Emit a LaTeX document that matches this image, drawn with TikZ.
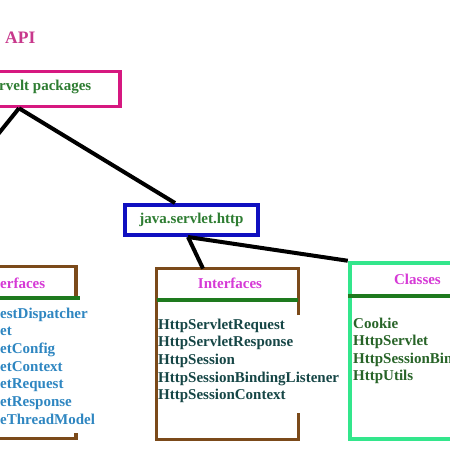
\documentclass[tikz,border=0pt]{standalone}
\usepackage{fontspec}
\setmainfont{Liberation Serif}
\usetikzlibrary{positioning}

\definecolor{titlepink}{RGB}{200,56,140}
\definecolor{pkgpink}{RGB}{214,24,128}
\definecolor{pkggreen}{RGB}{46,125,50}
\definecolor{httpblue}{RGB}{16,16,192}
\definecolor{hdrmag}{RGB}{214,58,214}
\definecolor{boxbrown}{RGB}{123,74,26}
\definecolor{sepgreen}{RGB}{30,122,30}
\definecolor{listblue}{RGB}{46,134,193}
\definecolor{listteal}{RGB}{22,70,70}
\definecolor{mint}{RGB}{51,230,140}
\definecolor{clsgreen}{RGB}{40,100,40}

\tikzset{
  conn/.style={line width=4pt, black},
  boxbody/.style={rectangle, inner sep=0pt},
  txt/.style={inner sep=0pt, font=\fontsize{15}{17.7}\selectfont\bfseries},
  hdr/.style={txt, text=hdrmag},
}

\begin{document}
\begin{tikzpicture}[x=1pt, y=-1pt]
    \useasboundingbox (0,0) rectangle (450,450);
    \clip (0,0) rectangle (450,450);
    \fill [white] (0,0) rectangle (450,450);

    \node [txt, font=\fontsize{17.5}{20}\selectfont\bfseries, text=titlepink,
      anchor=base west] (title) at (5,43) {API};

    \node [boxbody, draw=pkgpink, line width=3.5pt, minimum width=160pt,
      minimum height=35pt] (pkgs) at (40,89) {};
    \node [txt, text=pkggreen, anchor=base west] (pkgstxt) at (-1,90) {rvelt packages};

    \node [boxbody, draw=httpblue, line width=4pt, minimum width=133pt,
      minimum height=30pt, txt, text=pkggreen] (http) at (191.5,220) {java.servlet.http};

    \coordinate (left) at (-30,169);
    \draw [conn] ([xshift=-21pt]pkgs.south) -- (left) ;
    \draw [conn] ([xshift=-21pt]pkgs.south) -- ([xshift=-16.5pt]http.north) ;

    % left interfaces
    \node [boxbody, minimum width=141.5pt, minimum height=171.5pt] (ifaceL) at (5,352.5) {};
    \draw [boxbrown, line width=3.5pt] (ifaceL.north west) -- (ifaceL.north east)
      -- (ifaceL.north east |- 0,298) ;
    \draw [boxbrown, line width=3.5pt] (ifaceL.north east |- 0,433)
      -- (ifaceL.south east) -- (ifaceL.south west) ;
    \draw [sepgreen, line width=3.5pt] (ifaceL.west |- 0,298) -- (80,298) ;
    \node [hdr, anchor=base west] (hdrL) at (0,288) {erfaces};
    \foreach \t [count=\i] in {estDispatcher, et, etConfig, etContext,
      etRequest, etResponse, eThreadModel} {
      \node [txt, text=listblue, anchor=base west] (l\i) at (0,{318+17.7*(\i-1)}) {\t};
    }

    % middle interfaces
    \node [boxbody, minimum width=141.5pt, minimum height=170.5pt] (ifaceM) at (227.5,354) {};
    \draw [boxbrown, line width=3.5pt] (ifaceM.north east |- 0,315)
      -- (ifaceM.north east) -- (ifaceM.north west) -- (ifaceM.south west)
      -- (ifaceM.south east) -- (ifaceM.south east |- 0,413) ;
    \draw [sepgreen, line width=3.5pt] (ifaceM.west |- 0,300) -- (ifaceM.east |- 0,300) ;
    \node [hdr, anchor=base] (hdrM) at (230,288) {Interfaces};
    \foreach \t [count=\i] in {HttpServletRequest, HttpServletResponse, HttpSession,
      HttpSessionBindingListener, HttpSessionContext} {
      \node [txt, text=listteal, anchor=base west] (m\i) at (158,{329+17.7*(\i-1)}) {\t};
    }

    % classes
    \node [boxbody, draw=mint, line width=4pt, minimum width=141.5pt,
      minimum height=176.5pt] (classes) at (420.5,351) {};
    \draw [sepgreen, line width=3.5pt] (classes.west |- 0,296) -- (classes.east |- 0,296) ;
    \node [hdr, anchor=base] (hdrC) at (417.5,284) {Classes};
    \foreach \t [count=\i] in {Cookie, HttpServlet, HttpSessionBin, HttpUtils} {
      \node [txt, text=clsgreen, anchor=base west] (c\i) at (353,{328+17.5*(\i-1)}) {\t};
    }

    \draw [conn] ([xshift=-3.5pt]http.south) -- ([xshift=-24.5pt]ifaceM.north) ;
    \draw [conn] ([xshift=-3.5pt]http.south) -- (classes.north west) ;

  \end{tikzpicture}
\end{document}
